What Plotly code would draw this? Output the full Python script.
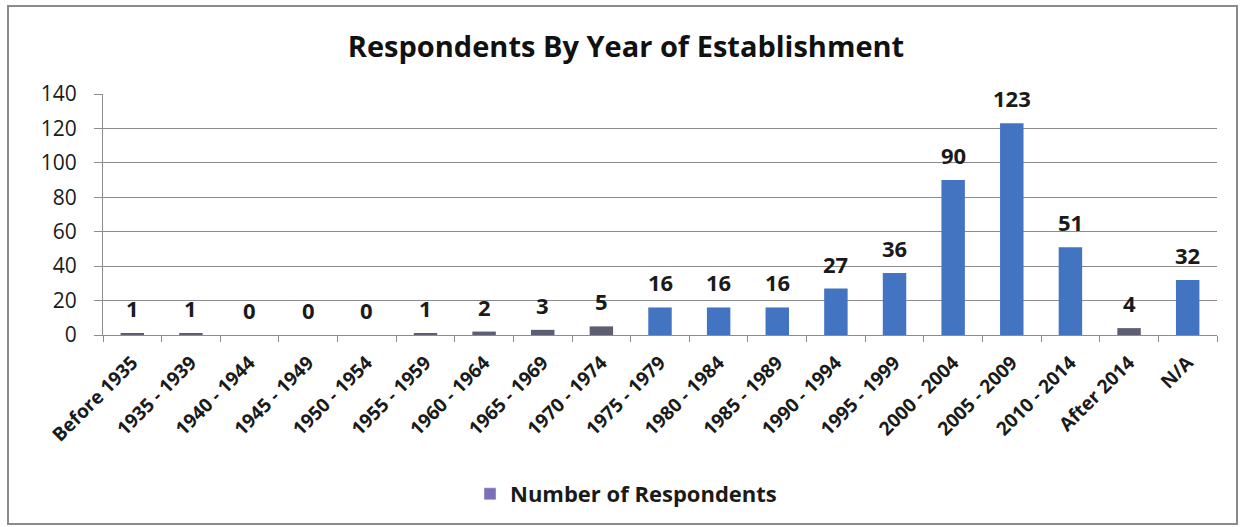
import plotly.graph_objects as go

categories = ["Before 1935", "1935 - 1939", "1940 - 1944", "1945 - 1949", "1950 - 1954",
              "1955 - 1959", "1960 - 1964", "1965 - 1969", "1970 - 1974", "1975 - 1979",
              "1980 - 1984", "1985 - 1989", "1990 - 1994", "1995 - 1999", "2000 - 2004",
              "2005 - 2009", "2010 - 2014", "After 2014", "N/A"]
respondents = [1, 1, 0, 0, 0, 1, 2, 3, 5, 16, 16, 16, 27, 36, 90, 123, 51, 4, 32]
y_ticks = [0, 20, 40, 60, 80, 100, 120, 140]

BLUE = "#4274C2"
GREY = "#5E5E72"
LEGEND_PURPLE = "#7B70B8"
FONT = "Open Sans"
TEXT = "#1a1a1a"

# the earliest, very small bars are rendered in a darker grey tone
bar_colors = [GREY if v <= 5 else BLUE for v in respondents]

fig = go.Figure()
fig.add_trace(go.Bar(
    x=categories, y=respondents,
    marker=dict(color=bar_colors, line=dict(width=0)),
    showlegend=False,
))
# legend entry
fig.add_trace(go.Bar(
    x=[None], y=[None], name="Number of Respondents",
    marker=dict(color=LEGEND_PURPLE),
    showlegend=True,
))

# value labels floating above each bar
for cat, val in zip(categories, respondents):
    fig.add_annotation(x=cat, y=val, text=f"<b>{val}</b>", showarrow=False,
                       xref="x", yref="y", yanchor="middle", yshift=25,
                       font=dict(family=FONT, size=22, color=TEXT))

# plot-area geometry in pixels, used to place the outer frame in paper units
L, R, T, B = 103, 27, 94, 192
W, H = 1244, 527
pw, ph = W - L - R, H - T - B

def px_to_paper_x(px):
    return (px - L) / pw

def px_to_paper_y(py):
    return (H - B - py) / ph

fig.add_shape(type="rect", xref="paper", yref="paper",
              x0=px_to_paper_x(8), x1=px_to_paper_x(1237),
              y0=px_to_paper_y(524), y1=px_to_paper_y(6),
              line=dict(color="#8a8a8a", width=2), fillcolor="rgba(0,0,0,0)", layer="below")

fig.update_layout(
    width=W, height=H,
    margin=dict(l=L, r=R, t=T, b=B, pad=0),
    paper_bgcolor="white", plot_bgcolor="white",
    title=dict(text="<b>Respondents By Year of Establishment</b>",
               x=px_to_paper_x(626), xref="paper", xanchor="center",
               y=1 - 47 / H, yanchor="middle",
               font=dict(family=FONT, size=29, color="#111111")),
    bargap=0.6,
    font=dict(family=FONT, color=TEXT),
    legend=dict(orientation="h", x=px_to_paper_x(626), xanchor="center",
                y=px_to_paper_y(494), yanchor="middle",
                font=dict(family=FONT, size=22, color=TEXT, weight="bold"),
                itemwidth=30, bgcolor="rgba(0,0,0,0)"),
    xaxis=dict(
        type="category", tickangle=-45,
        tickfont=dict(family=FONT, size=19, color=TEXT, weight="bold"),
        showline=True, linecolor="#8c8c8c", linewidth=1,
        ticks="outside", ticklen=6, tickcolor="#8c8c8c", tickson="boundaries",
        showgrid=False, ticklabelstandoff=8,
    ),
    yaxis=dict(
        range=[0, 140], tickvals=y_ticks,
        tickfont=dict(family=FONT, size=21, color=TEXT),
        showline=True, linecolor="#8c8c8c", linewidth=1,
        ticks="outside", ticklen=8, tickcolor="#8c8c8c",
        showgrid=True, gridcolor="#8c8c8c", gridwidth=1,
        zeroline=False, ticklabelstandoff=13,
    ),
)

fig.write_html("out.html")
